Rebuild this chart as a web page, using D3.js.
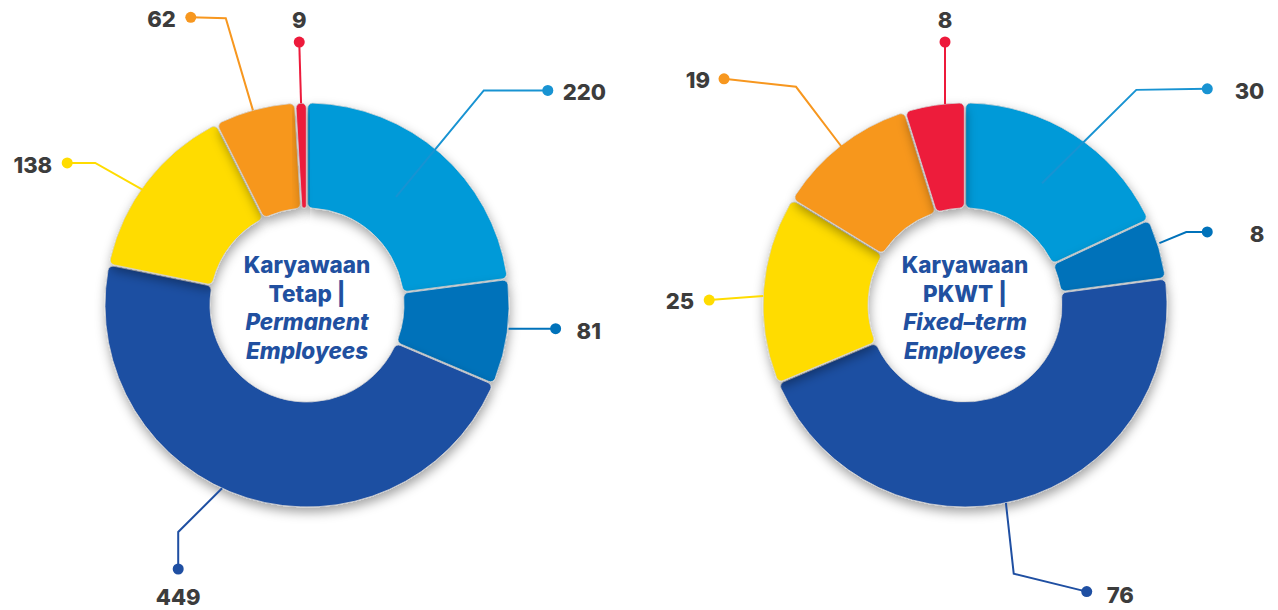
<!DOCTYPE html>
<html>
<head>
<meta charset="utf-8">
<script src="https://cdn.jsdelivr.net/npm/d3@7"></script>
<style>
  html, body { margin: 0; padding: 0; background: #ffffff; }
  svg { display: block; }
</style>
</head>
<body>
<svg id="chart" width="1278" height="610"></svg>
<script>
// Employee headcount by group, clockwise from 12 o'clock
const groups = ["A", "B", "C", "D", "E", "F"];
const permanentValues = [220, 81, 449, 138, 62, 9];
const fixedTermValues = [30, 8, 76, 25, 19, 8];
const permanentTitle = [["Karyawaan", false], ["Tetap |", false], ["Permanent", true], ["Employees", true]];
const fixedTermTitle = [["Karyawaan", false], ["PKWT |", false], ["Fixed–term", true], ["Employees", true]];

const sliceColors = ["#009ad8", "#0072ba", "#1f4fa2", "#ffdc00", "#f7971f", "#ed1a3b"];
const lineColors  = ["#1893d2", "#0072ba", "#1f4fa2", "#ffdc00", "#f7971f", "#ed1a3b"];

// leader-line geometry: angular shift (deg) of start / elbow, radii, dot offset, text placement
const permanentLabels = [
  { s0: -1.8, s1: -1.8, r0: 140, r1: 278, dx: 64,  dy: 0,  anchor: "start",  tx: 15,  ty: 10 },
  { s0: -1.1, s1: -1.1, r0: 203, r1: 203, dx: 47,  dy: 0,  anchor: "start",  tx: 21,  ty: 10 },
  { s0: 7.6,  s1: 12.3, r0: 202, r1: 261, dx: 0,   dy: 37, anchor: "middle", tx: 0,   ty: 36 },
  { s0: -2.4, s1: -3.6, r0: 200, r1: 255, dx: -28, dy: 0,  anchor: "end",    tx: -15, ty: 10 },
  { s0: -0.5, s1: -0.8, r0: 202, r1: 298, dx: -35, dy: -1, anchor: "end",    tx: -15, ty: 10 },
  { s0: 0,    s1: 0,    r0: 202, r1: 263, dx: 0,   dy: 0,  anchor: "middle", tx: 0,   ty: -14 }
];
const fixedTermLabels = [
  { s0: -0.2, s1: 6.0,  r0: 144, r1: 275, dx: 71,  dy: -1, anchor: "end",    tx: 57,  ty: 10 },
  { s0: -1.4, s1: -2.0, r0: 204, r1: 233, dx: 21,  dy: 0,  anchor: "end",    tx: 57,  ty: 10 },
  { s0: 3.5,  s1: 4.9,  r0: 202, r1: 273, dx: 73,  dy: 18, anchor: "start",  tx: 20,  ty: 11 },
  { s0: -1.8, s1: -1.8, r0: 202, r1: 202, dx: -54, dy: 4,  anchor: "end",    tx: -15, ty: 9 },
  { s0: 0,    s1: 0.2,  r0: 201, r1: 276, dx: -72, dy: -8, anchor: "end",    tx: -14, ty: 9 },
  { s0: 3.0,  s1: 3.0,  r0: 202, r1: 202, dx: 0,   dy: -62, anchor: "middle", tx: 0,  ty: -14 }
];

const svg = d3.select("#chart");
const defs = svg.append("defs");
const f = defs.append("filter").attr("id", "sliceShadow")
  .attr("x", "-30%").attr("y", "-30%").attr("width", "160%").attr("height", "160%");
f.append("feDropShadow").attr("dx", 1).attr("dy", 5).attr("stdDeviation", 5.5)
  .attr("flood-color", "#000").attr("flood-opacity", 0.36);

const outerR = 202, innerR = 97;
const pie = d3.pie().sort(null).value(d => d);
const arc = d3.arc().innerRadius(innerR).outerRadius(outerR).cornerRadius(5).padAngle(0.006);

function polar(angle, r) {
  return [r * Math.sin(angle), -r * Math.cos(angle)];
}

function drawDonut(cx, cy, values, labels, title) {
  const g = svg.append("g").attr("transform", `translate(${cx},${cy})`);
  const arcs = pie(values);

  g.selectAll("path.slice").data(arcs).join("path")
    .attr("class", "slice")
    .attr("d", arc)
    .attr("fill", (d, i) => sliceColors[i])
    .attr("stroke", "#d4d4d4")
    .attr("stroke-width", 0.8)
    .attr("filter", "url(#sliceShadow)");

  // center title
  const t = g.append("text")
    .attr("text-anchor", "middle")
    .attr("fill", "#2150a0")
    .style("font-family", "Inter, 'Open Sans', sans-serif")
    .style("font-weight", 800)
    .style("font-size", "22.5px");
  title.forEach(([txt, italic], i) => {
    t.append("tspan").attr("x", 0).attr("y", -32 + i * 28.7)
      .style("font-style", italic ? "italic" : "normal")
      .text(txt);
  });

  // leader lines, dots and value labels
  arcs.forEach((d, i) => {
    const L = labels[i];
    const mid = (d.startAngle + d.endAngle) / 2;
    const p0 = polar(mid + L.s0 * Math.PI / 180, L.r0);
    const p1 = polar(mid + L.s1 * Math.PI / 180, L.r1);
    const p2 = [p1[0] + L.dx, p1[1] + L.dy];
    g.append("path")
      .attr("d", d3.line()([p0, p1, p2]))
      .attr("fill", "none")
      .attr("stroke", lineColors[i])
      .attr("stroke-width", 2);
    g.append("circle")
      .attr("cx", p2[0]).attr("cy", p2[1]).attr("r", 5.5)
      .attr("fill", lineColors[i]);
    g.append("text")
      .attr("x", p2[0] + L.tx).attr("y", p2[1] + L.ty)
      .attr("text-anchor", L.anchor)
      .attr("fill", "#3c3c3c")
      .style("font-family", "Inter, 'Open Sans', sans-serif")
      .style("font-weight", 800)
      .style("font-size", "22px")
      .text(d.data);
  });
}

drawDonut(307, 305, permanentValues, permanentLabels, permanentTitle);
drawDonut(965, 305, fixedTermValues, fixedTermLabels, fixedTermTitle);
</script>
</body>
</html>
